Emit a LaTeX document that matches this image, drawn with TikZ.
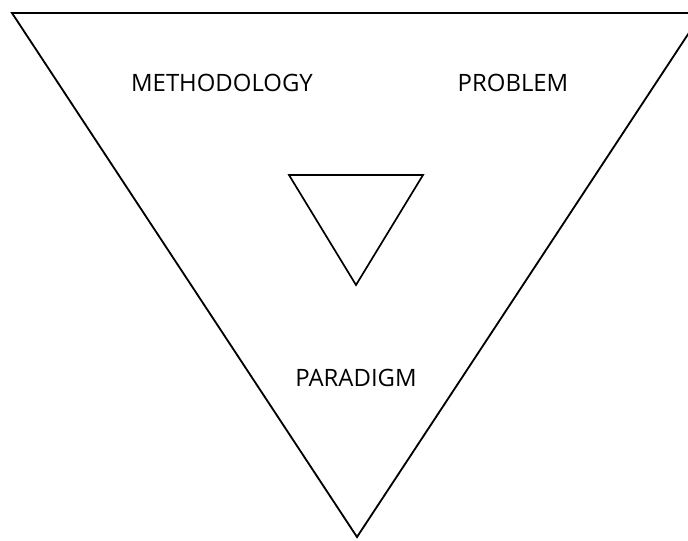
\documentclass[tikz,border=0pt]{standalone}
\usepackage{fontspec}
\setmainfont{Open Sans}
\usetikzlibrary{positioning}

\begin{document}
\begin{tikzpicture}[x=0.025cm,y=-0.025cm]
      \useasboundingbox (0,0) rectangle (688,540);
      \clip (0,0) rectangle (688,540);
      \draw[line width=1.3pt,line join=miter] (12,13) -- (702,13) -- (357,537) -- cycle;
      \draw[line width=1.2pt] (289,175) -- (423,175) -- (356,285) -- cycle;
      \node[font=\fontsize{17}{19}\selectfont] (meth) at (222,83) {METHODOLOGY};
      \node[font=\fontsize{17}{19}\selectfont] (prob) at (513,83) {PROBLEM};
      \node[font=\fontsize{17}{19}\selectfont] (para) at (356,378) {PARADIGM};
    \end{tikzpicture}
\end{document}
